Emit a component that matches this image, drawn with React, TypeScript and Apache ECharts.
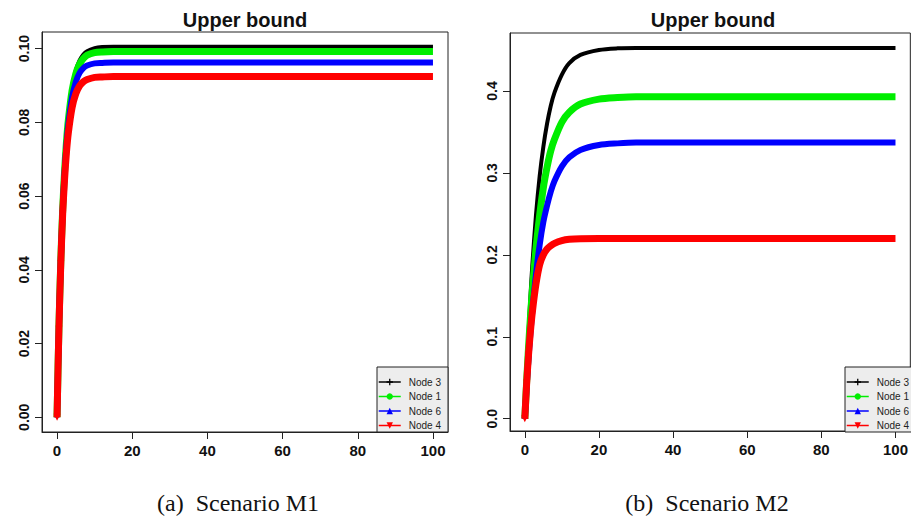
import React, { useEffect, useRef } from "react";
import * as echarts from "echarts";

const nodeNames = ["Node 3", "Node 1", "Node 6", "Node 4"];
const nodeColors = ["#000000", "#00ee00", "#0000ff", "#ff0000"];

// Scenario M1
const timeM1 = [0, 0.5, 1, 1.5, 2, 2.5, 3, 4, 5, 6, 7, 8, 10, 12, 15, 20, 30, 40, 50, 60, 70, 80, 90, 100];
const m1Node3 = [0, 0.0241, 0.0425, 0.0565, 0.067, 0.0751, 0.0812, 0.0893, 0.0941, 0.0968, 0.0984, 0.0993, 0.1001, 0.1004, 0.1005, 0.1005, 0.1005, 0.1005, 0.1005, 0.1005, 0.1005, 0.1005, 0.1005, 0.1005];
const m1Node1 = [0, 0.0242, 0.0425, 0.0563, 0.0666, 0.0745, 0.0805, 0.0886, 0.0932, 0.0958, 0.0973, 0.0982, 0.0989, 0.0991, 0.0992, 0.0992, 0.0992, 0.0992, 0.0992, 0.0992, 0.0992, 0.0992, 0.0992, 0.0992];
const m1Node6 = [0, 0.0242, 0.0424, 0.056, 0.0661, 0.0737, 0.0793, 0.0868, 0.091, 0.0934, 0.0947, 0.0954, 0.096, 0.0961, 0.0962, 0.0962, 0.0962, 0.0962, 0.0962, 0.0962, 0.0962, 0.0962, 0.0962, 0.0962];
const m1Node4 = [0, 0.0239, 0.0417, 0.0551, 0.0645, 0.0718, 0.0771, 0.084, 0.0878, 0.0899, 0.091, 0.0916, 0.0922, 0.0923, 0.0924, 0.0924, 0.0924, 0.0924, 0.0924, 0.0924, 0.0924, 0.0924, 0.0924, 0.0924];

// Scenario M2
const timeM2 = [0, 0.5, 1, 1.5, 2, 3, 4, 5, 6, 7, 8, 10, 12, 15, 20, 25, 30, 40, 50, 60, 70, 80, 90, 100];
const m2Node3 = [0, 0.056, 0.105, 0.148, 0.186, 0.248, 0.296, 0.332, 0.36, 0.382, 0.398, 0.42, 0.434, 0.444, 0.45, 0.452, 0.4525, 0.4525, 0.4525, 0.4525, 0.4525, 0.4525, 0.4525, 0.4525];
const m2Node1 = [0, 0.046, 0.087, 0.123, 0.155, 0.207, 0.248, 0.282, 0.307, 0.327, 0.341, 0.362, 0.374, 0.384, 0.39, 0.392, 0.393, 0.393, 0.393, 0.393, 0.393, 0.393, 0.393, 0.393];
const m2Node6 = [0, 0.04, 0.074, 0.104, 0.13, 0.176, 0.212, 0.24, 0.26, 0.277, 0.29, 0.308, 0.319, 0.328, 0.334, 0.336, 0.337, 0.337, 0.337, 0.337, 0.337, 0.337, 0.337, 0.337];
const m2Node4 = [0, 0.0435, 0.078, 0.106, 0.129, 0.164, 0.188, 0.2, 0.207, 0.211, 0.214, 0.2173, 0.2189, 0.2197, 0.22, 0.22, 0.22, 0.22, 0.22, 0.22, 0.22, 0.22, 0.22, 0.22];

const xTicks = [0, 20, 40, 60, 80, 100];
const yTicksM1 = [0, 0.02, 0.04, 0.06, 0.08, 0.1];
const yTicksM2 = [0, 0.1, 0.2, 0.3, 0.4];

const panelTitle = "Upper bound";
const captionM1 = "(a)  Scenario M1";
const captionM2 = "(b)  Scenario M2";

const symbols = [
  "path://M4,0H6V4H10V6H6V10H4V6H0V4H4Z",
  "circle",
  "triangle",
  "path://M0,0L10,0L5,9Z",
];
const lineWidths = [4, 7, 6, 7];
const symbolSizes = [6, 6, 6, 7];
// separate markers are visible only on the top-most (red) series along the rise
const markerUntil = [-1, -1, -1, 2.5];

export default function App() {
  const ref = useRef<HTMLDivElement>(null);
  useEffect(() => {
    if (!ref.current) return;
    const chart = echarts.init(ref.current, null, { renderer: "svg" });
    const tickFont = {
      fontFamily: "Liberation Sans, Arial, sans-serif",
      fontWeight: "bold" as const,
      color: "#111",
    };
    const axisLine = { show: true, onZero: false, lineStyle: { color: "#222", width: 1 } };
    const axisTick = (vals: number[]) => ({
      show: true,
      length: 7,
      lineStyle: { color: "#222", width: 1 },
      customValues: vals,
    });
    const xAxisFor = (gridIndex: number) => ({
      type: "value" as const,
      gridIndex,
      min: -4,
      max: 104,
      axisLine,
      axisTick: axisTick(xTicks),
      splitLine: { show: false },
      axisLabel: { ...tickFont, fontSize: 15, margin: 11, customValues: xTicks },
    });
    const yAxisFor = (gridIndex: number, min: number, max: number, vals: number[], dec: number) => ({
      type: "value" as const,
      gridIndex,
      min,
      max,
      axisLine,
      axisTick: axisTick(vals),
      splitLine: { show: false },
      axisLabel: {
        ...tickFont,
        fontSize: 14,
        rotate: 90,
        margin: 11,
        customValues: vals,
        formatter: (v: number) => v.toFixed(dec),
      },
    });
    const m1 = [m1Node3, m1Node1, m1Node6, m1Node4];
    const m2 = [m2Node3, m2Node1, m2Node6, m2Node4];
    const makeSeries = (idx: number, xs: number[], sets: number[][]) =>
      sets.map((ys, i) => ({
        type: "line" as const,
        name: nodeNames[i],
        xAxisIndex: idx,
        yAxisIndex: idx,
        data: xs.map((x, j) => [x, ys[j]]),
        smooth: 0.3,
        symbol: symbols[i],
        symbolSize: (v: number[]) => (v[0] <= markerUntil[i] ? symbolSizes[i] : 0),
        showSymbol: true,
        showAllSymbol: true,
        color: nodeColors[i],
        lineStyle: { width: lineWidths[i], color: nodeColors[i] },
        itemStyle: { color: nodeColors[i] },
      }));
    const legendFor = (left: number) => ({
      orient: "vertical" as const,
      left,
      top: 377,
      padding: 0,
      itemWidth: 22,
      itemHeight: 8,
      itemGap: 4.5,
      data: nodeNames,
      selectedMode: false,
      lineStyle: { width: 1.5 },
      itemStyle: { borderWidth: 0 },
      textStyle: {
        fontFamily: "Liberation Sans, Arial, sans-serif",
        fontSize: 10,
        color: "#222",
        padding: [0, 0, 0, 3],
      },
      z: 10,
    });
    const text = (x: number, y: number, s: string, font: string) => ({
      type: "text" as const,
      x,
      y,
      z: 20,
      style: {
        text: s,
        font,
        fill: "#111",
        textAlign: "center",
        textVerticalAlign: "middle",
      },
    });
    const legendBox = (x: number) => ({
      type: "rect" as const,
      shape: { x, y: 367, width: 71, height: 65 },
      z: 5,
      style: { fill: "#ededed", stroke: "#222", lineWidth: 1 },
    });
    chart.setOption({
      animation: false,
      backgroundColor: "#ffffff",
      grid: [
        { left: 42, top: 32, width: 406, height: 400, show: true, borderColor: "#222", borderWidth: 1, backgroundColor: "transparent" },
        { left: 510, top: 33, width: 406, height: 398, show: true, borderColor: "#222", borderWidth: 1, backgroundColor: "transparent" },
      ],
      xAxis: [xAxisFor(0), xAxisFor(1)],
      yAxis: [
        yAxisFor(0, -0.004, 0.1045, yTicksM1, 2),
        yAxisFor(1, -0.015, 0.4707, yTicksM2, 1),
      ],
      legend: [legendFor(378), legendFor(846)],
      series: [...makeSeries(0, timeM1, m1), ...makeSeries(1, timeM2, m2)],
      graphic: [
        legendBox(377),
        legendBox(845),
        text(245, 20, panelTitle, "bold 20px 'Liberation Sans', Arial, sans-serif"),
        text(713, 20, panelTitle, "bold 20px 'Liberation Sans', Arial, sans-serif"),
        text(238, 503, captionM1, "24px 'Liberation Serif', 'Times New Roman', serif"),
        text(707, 503, captionM2, "24px 'Liberation Serif', 'Times New Roman', serif"),
      ],
    });
    return () => chart.dispose();
  }, []);
  return (
    <div
      ref={ref}
      style={{ position: "fixed", left: 0, top: 0, width: 911, height: 518, background: "#fff" }}
    />
  );
}
